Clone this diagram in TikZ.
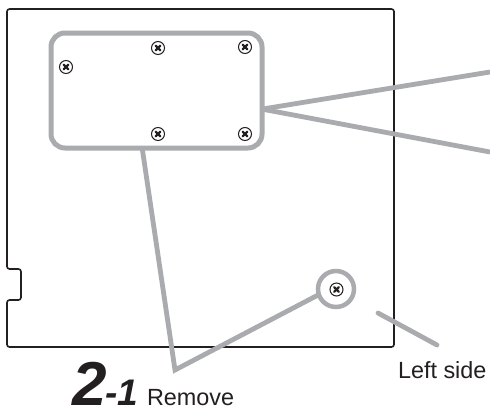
\documentclass[tikz,border=0pt]{standalone}
\usepackage{fontspec}
\setmainfont{Liberation Sans}
\definecolor{lead}{HTML}{A9ABAE}
\definecolor{ink}{HTML}{231F20}
\tikzset{
  panel/.style={draw=ink,line width=1.6pt,line join=round,rounded corners=2.5pt},
  leader/.style={draw=lead,line width=4.8pt},
  plate/.style={draw=lead,line width=5pt,rounded corners=14pt,minimum width=211pt,minimum height=115pt,inner sep=0pt,outer sep=0pt},
  ring/.style={circle,draw=lead,line width=4.5pt,minimum size=36pt,inner sep=0pt,outer sep=0pt},
  screw/.style={circle,draw=ink,line width=1pt,fill=white,minimum size=13pt,inner sep=0pt,
    path picture={
      \draw[ink,line width=2.3pt,line cap=round] (path picture bounding box.center)+(-2.4pt,-2.4pt) -- +(2.4pt,2.4pt);
      \draw[ink,line width=2.3pt,line cap=round] (path picture bounding box.center)+(-2.4pt,2.4pt) -- +(2.4pt,-2.4pt);
      \fill[white] (path picture bounding box.center)+(0pt,3.2pt) circle (0.8pt) +(0pt,-3.2pt) circle (0.8pt) +(3.2pt,0pt) circle (0.8pt) +(-3.2pt,0pt) circle (0.8pt);
    }},
  label/.style={inner sep=0pt,outer sep=0pt,text=ink,anchor=base west},
}
\begin{document}
\begin{tikzpicture}[x=1pt,y=-1pt]
\useasboundingbox[fill=white] (0,0) rectangle (490,410);
% panel outline
\draw[panel] (7,9) -- (394,9) -- (394,347) -- (7,347) -- (7,300) -- (21,300) -- (21,269) -- (7,269) -- cycle;
% highlight and screws
\node[plate] (plate) at (156.5,90.5) {};
\node[ring] (ring) at (336,289) {};
\node[screw] (s1) at (158,48) {};
\node[screw] (s2) at (245,47) {};
\node[screw] (s3) at (66,67) {};
\node[screw] (s4) at (158,134) {};
\node[screw] (s5) at (245,134) {};
\node[screw] (s6) at (336.5,289.5) {};
% free ends
\coordinate (apex) at (175,370);
\coordinate (upperend) at (490,72);
\coordinate (lowerend) at (490,152);
\coordinate (sidea) at (378,313);
\coordinate (sideb) at (437,345);
% leaders
\draw[leader,line join=miter] (plate.-104) -- (apex) -- (ring.198);
\draw[leader] (plate.-10.7) -- (upperend);
\draw[leader] (plate.-10.7) -- (lowerend);
\draw[leader,line cap=round] (sidea) -- (sideb);
% labels
\node[label,font=\fontsize{62}{62}\selectfont\bfseries\itshape] (two) at (72,405) {2};
\node[label,font=\fontsize{37}{37}\selectfont\bfseries\itshape] (one) at (105,405) {-1};
\node[label,font=\fontsize{23.4}{24}\selectfont] (remove) at (147,405) {Remove};
\node[label,font=\fontsize{23.4}{24}\selectfont] (side) at (398,378) {Left side};
\end{tikzpicture}
\end{document}
